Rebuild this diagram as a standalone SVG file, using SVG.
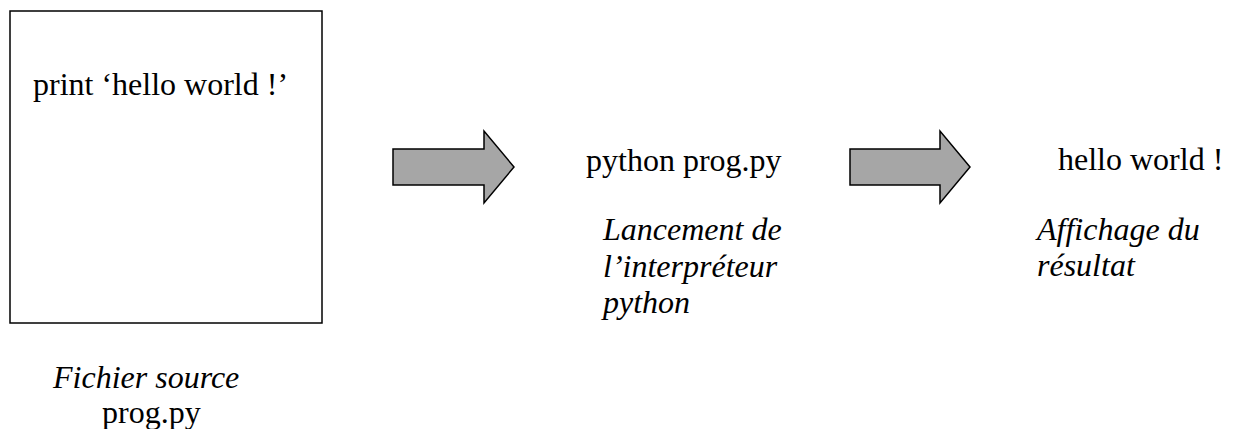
<svg xmlns="http://www.w3.org/2000/svg" width="1233" height="429" viewBox="0 0 1233 429">
<style>
text{font-family:"Liberation Serif","Times New Roman",serif;font-size:32px;fill:#000}
.it{font-style:italic}
.arrow{fill:#a6a6a6;stroke:#000;stroke-width:1.5;stroke-linejoin:miter}
.box{fill:#fff;stroke:#000;stroke-width:1.5}
</style>
<rect width="1233" height="429" fill="#fff"/>
<g id="source">
<rect class="box" x="10" y="11" width="312" height="312"/>
<text x="33" y="95">print ‘hello world !’</text>
<text class="it" x="53" y="388">Fichier source</text>
<text x="102" y="423">prog.py</text>
</g>
<g id="connectors">
<polygon class="arrow" points="393,149 484,149 484,131 514,167 484,203 484,185 393,185"/>
<polygon class="arrow" points="850,149 940,149 940,131 970,167 940,203 940,185 850,185"/>
</g>
<g id="interpreter">
<text x="586" y="171">python prog.py</text>
<text class="it" x="603" y="240">Lancement de</text>
<text class="it" x="603" y="277">l’interpréteur</text>
<text class="it" x="603" y="313">python</text>
</g>
<g id="result">
<text x="1058" y="170">hello world !</text>
<text class="it" x="1037" y="240">Affichage du</text>
<text class="it" x="1037" y="276">résultat</text>
</g>
</svg>
